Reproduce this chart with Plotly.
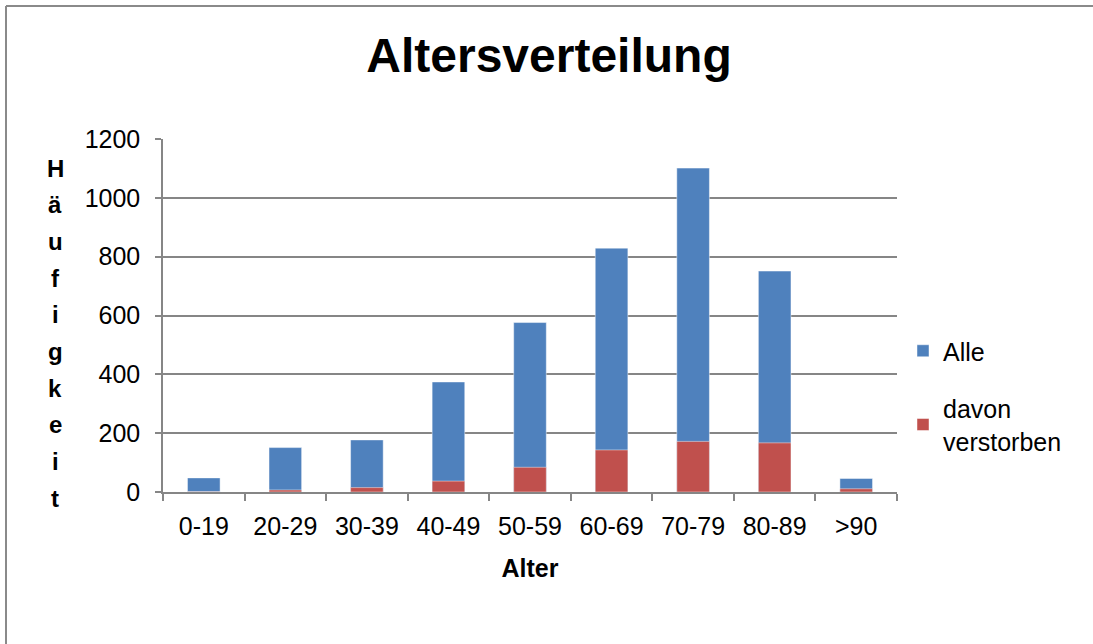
import plotly.graph_objects as go

categories = ["0-19", "20-29", "30-39", "40-49", "50-59", "60-69", "70-79", "80-89", ">90"]
alle = [48, 151, 177, 374, 576, 829, 1101, 751, 46]
verstorben = [1, 7, 15, 37, 84, 143, 172, 167, 11]

title_text = "Altersverteilung"
x_title = "Alter"
y_title = "Häufigkeit"

BLUE = "#4F81BD"
RED = "#C0504D"
GRID = "#868686"
FONT = "Arial, Liberation Sans, sans-serif"

fig = go.Figure()
fig.add_trace(go.Bar(
    x=categories, y=alle, name="Alle", legendgroup="a",
    marker=dict(color=BLUE, line=dict(color="rgba(255,255,255,0.45)", width=1)),
))
fig.add_trace(go.Bar(
    x=categories, y=verstorben, name="davon<br>verstorben", legendgroup="b",
    marker=dict(color=RED, line=dict(color="rgba(255,255,255,0.45)", width=1)),
))

W, H = 1093, 644
L, R, T, B = 163, 196, 139, 152
pw = W - L - R
ph = H - T - B
AX0 = H - B  # pixel row of y=0

fig.update_layout(
    width=W, height=H,
    barmode="overlay",
    bargap=0.6,
    paper_bgcolor="white", plot_bgcolor="white",
    margin=dict(l=L, r=R, t=T, b=B),
    font=dict(family=FONT, size=25, color="black"),
    title=dict(text="<b>" + title_text + "</b>", x=549 / W, xanchor="center",
               y=1 - 55 / H, yanchor="middle", font=dict(size=48, family=FONT)),
    showlegend=True,
    legend=dict(x=(903 - L) / pw, xanchor="left", y=(AX0 - 328) / ph, yanchor="top",
                traceorder="grouped", tracegroupgap=22,
                font=dict(size=25, family=FONT), itemwidth=30,
                bgcolor="rgba(0,0,0,0)"),
    xaxis=dict(
        type="category", showline=True, linecolor=GRID, linewidth=1.5,
        ticks="outside", tickson="boundaries", ticklen=7, tickcolor=GRID, tickwidth=1.5,
        showgrid=False, tickfont=dict(size=25), ticklabelstandoff=11,
        title=dict(text="<b>" + x_title + "</b>", font=dict(size=25), standoff=21),
    ),
    yaxis=dict(
        range=[0, 1200], dtick=200, showline=True, linecolor=GRID, linewidth=1.5,
        ticks="outside", ticklen=6, tickcolor=GRID, tickwidth=1.5,
        showgrid=True, gridcolor=GRID, gridwidth=1.5,
        tickfont=dict(size=25), ticklabelstandoff=10,
        zeroline=False,
    ),
)

# vertical stacked y-axis title letters
top_px, step_px = 168, 36.7
for i, ch in enumerate(y_title):
    ypx = top_px + i * step_px
    fig.add_annotation(
        text="<b>" + ch + "</b>", xref="paper", yref="paper",
        x=(55 - L) / pw, y=(AX0 - ypx) / ph, xanchor="center", yanchor="middle",
        showarrow=False, font=dict(size=24, family=FONT, color="black"),
    )

# chart border (top and left edges visible)
x0 = (6 - L) / pw
y0 = (AX0 - 6) / ph
fig.add_shape(type="line", xref="paper", yref="paper", x0=x0, x1=(W + 10 - L) / pw, y0=y0, y1=y0,
              line=dict(color="#8a8a8a", width=2))
fig.add_shape(type="line", xref="paper", yref="paper", x0=x0, x1=x0, y0=y0, y1=(AX0 - H - 10) / ph,
              line=dict(color="#8a8a8a", width=2))

fig.write_html("out.html", config={"displayModeBar": False},
               post_script="document.body.style.margin='0';")
